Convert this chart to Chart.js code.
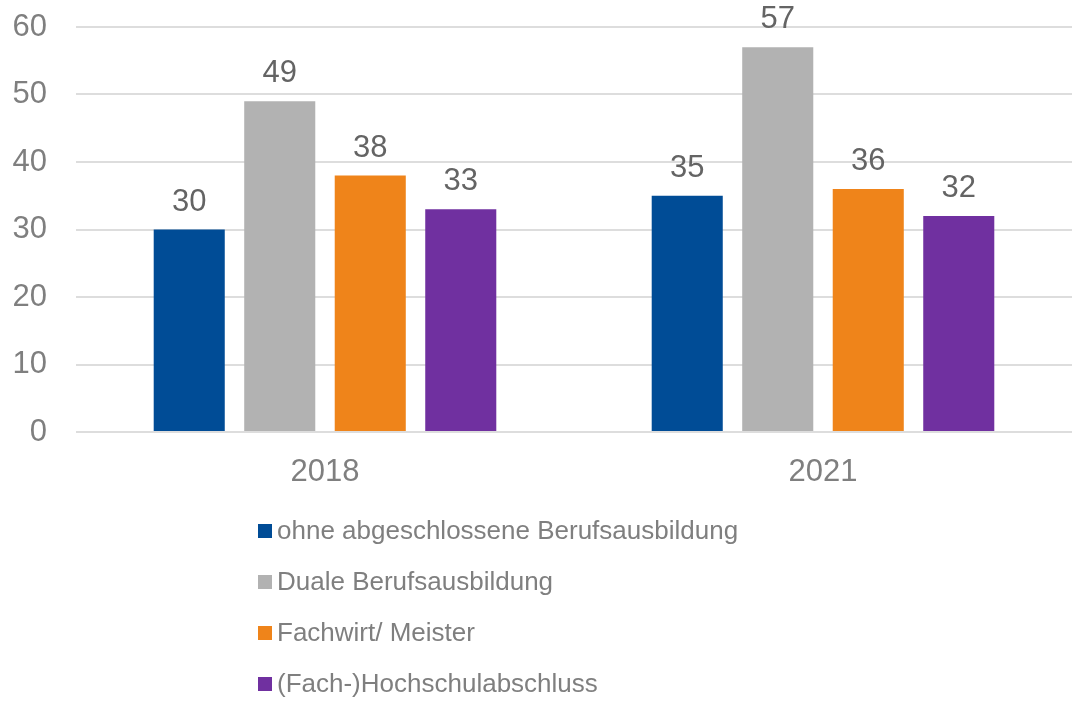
<!DOCTYPE html>
<html>
<head>
<meta charset="utf-8">
<script src="https://cdn.jsdelivr.net/npm/chart.js@4"></script>
<style>
  html, body { margin: 0; padding: 0; background: #fff; }
  #wrap { width: 1072px; height: 702px; }
</style>
</head>
<body>
<div id="wrap"><canvas id="chart" width="1072" height="702"></canvas></div>
<script>
// data
const years = ['2018', '2021'];
const seriesNames = ['ohne abgeschlossene Berufsausbildung', 'Duale Berufsausbildung', 'Fachwirt/ Meister', '(Fach-)Hochschulabschluss'];
const ohneAbschluss = [30, 35];
const dual = [49, 57];
const fachwirt = [38, 36];
const hochschule = [33, 32];
const yTicks = [0, 10, 20, 30, 40, 50, 60];

const colors = ['#004C96', '#B2B2B2', '#EF841A', '#7030A0'];
const FONT = '"Liberation Sans", Arial, sans-serif';

// value labels above bars
const valueLabels = {
  id: 'valueLabels',
  afterDatasetsDraw(chart) {
    const ctx = chart.ctx;
    ctx.save();
    ctx.font = '31px ' + FONT;
    ctx.fillStyle = '#646464';
    ctx.textAlign = 'center';
    ctx.textBaseline = 'alphabetic';
    chart.data.datasets.forEach((ds, i) => {
      chart.getDatasetMeta(i).data.forEach((bar, j) => {
        ctx.fillText(ds.data[j], bar.x, bar.y - 19);
      });
    });
    ctx.restore();
  }
};

// vertical legend below the chart
const sideLegend = {
  id: 'sideLegend',
  afterDraw(chart) {
    const ctx = chart.ctx;
    ctx.save();
    ctx.font = '26px ' + FONT;
    ctx.textBaseline = 'middle';
    ctx.textAlign = 'left';
    chart.data.datasets.forEach((ds, i) => {
      const y = 531 + i * 51;
      ctx.fillStyle = ds.backgroundColor;
      ctx.fillRect(258, y - 7, 14, 14);
      ctx.fillStyle = '#7F7F7F';
      ctx.fillText(ds.label, 277, y + 1);
    });
    ctx.restore();
  }
};

const allSeries = [ohneAbschluss, dual, fachwirt, hochschule];

new Chart(document.getElementById('chart'), {
  type: 'bar',
  data: {
    labels: years,
    datasets: allSeries.map((vals, i) => ({
      label: seriesNames[i],
      data: vals,
      backgroundColor: colors[i],
      categoryPercentage: 0.727,
      barPercentage: 0.785
    }))
  },
  options: {
    responsive: false,
    animation: false,
    layout: { padding: { top: 27, right: 0, left: 0, bottom: 0 } },
    plugins: { legend: { display: false }, tooltip: { enabled: false } },
    scales: {
      x: {
        grid: { display: false, drawTicks: false },
        border: { display: false },
        ticks: { color: '#7F7F7F', font: { family: FONT, size: 31 }, padding: 22 },
        afterFit(s) { s.height = 270; s.paddingLeft = 0; s.paddingRight = 0; }
      },
      y: {
        min: 0, max: 60,
        afterBuildTicks(s) { s.ticks = yTicks.map(v => ({ value: v })); },
        grid: { color: '#DDDDDD', lineWidth: 2, drawTicks: false },
        border: { display: false },
        ticks: { color: '#7F7F7F', font: { family: FONT, size: 31 }, padding: 29 },
        afterFit(s) { s.width = 76; s.paddingTop = 0; s.paddingBottom = 0; }
      }
    }
  },
  plugins: [valueLabels, sideLegend]
});
</script>
</body>
</html>
